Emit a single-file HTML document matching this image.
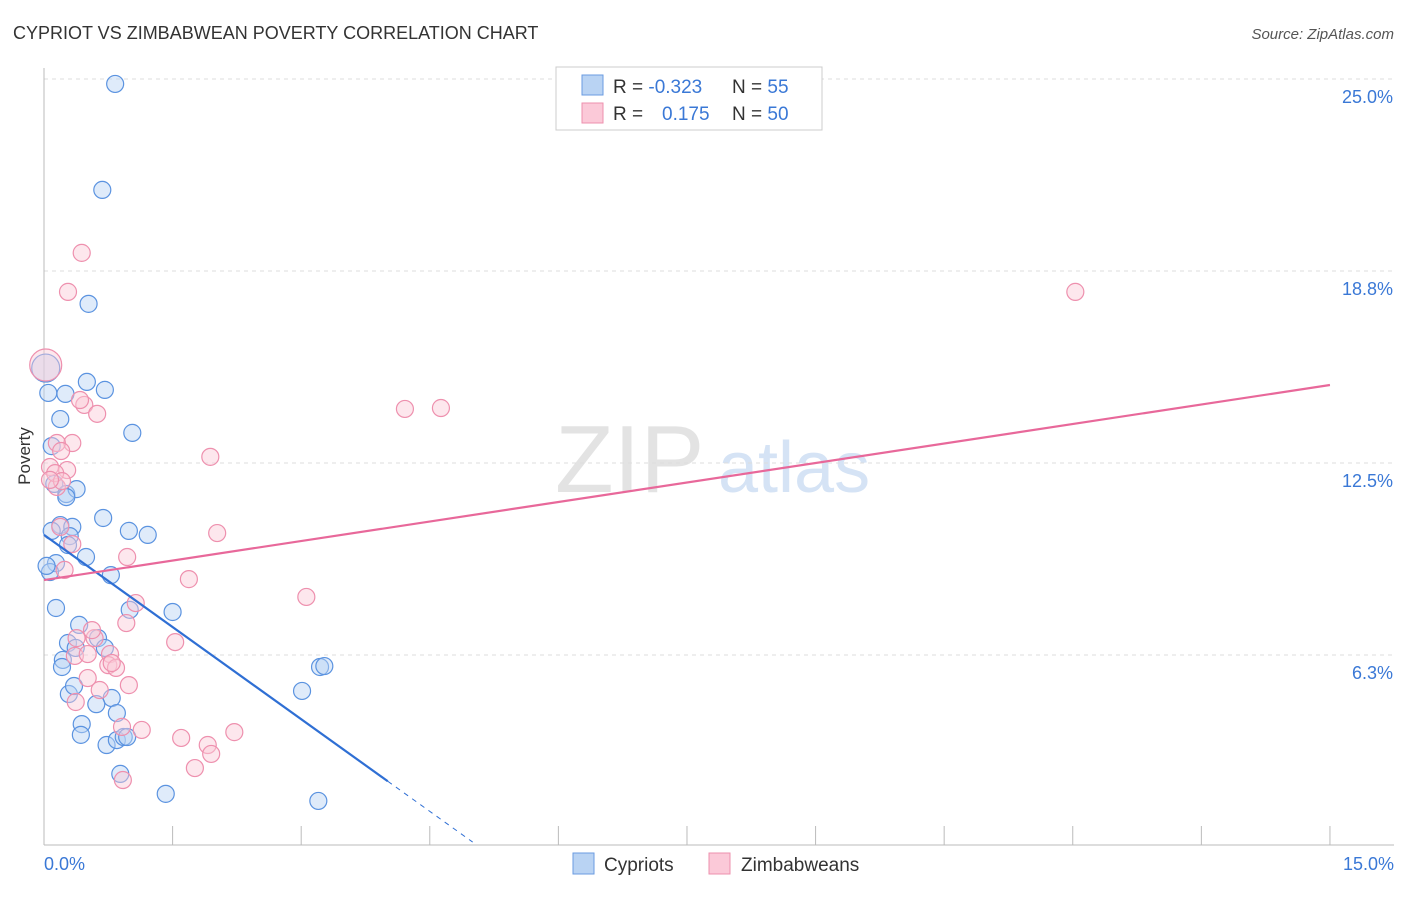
<!DOCTYPE html>
<html><head><meta charset="utf-8"><style>
body{margin:0;background:#fff;font-family:"Liberation Sans",sans-serif}
svg text{font-family:"Liberation Sans",sans-serif}
</style></head><body>
<svg id="chart" width="1406" height="892" viewBox="0 0 1406 892" xmlns="http://www.w3.org/2000/svg">
<text x="13" y="39" font-size="18" fill="#333">CYPRIOT VS ZIMBABWEAN POVERTY CORRELATION CHART</text>
<text x="1394" y="39" font-size="15" fill="#555" font-style="italic" text-anchor="end">Source: ZipAtlas.com</text>
<g><text x="555" y="492" font-size="96" fill="#ddd" font-family="Liberation Serif" opacity="0.8">ZIP</text><text x="718" y="492" font-size="72" fill="#d5e3f5">atlas</text></g>
<g id="grid"></g>
<line x1="44" y1="68" x2="44" y2="845" stroke="#bbb"/>
<line x1="44" y1="845" x2="1394" y2="845" stroke="#bbb"/>
<g id="xticks"></g>
<text x="30" y="456" font-size="17" fill="#333" transform="rotate(-90 30 456)" text-anchor="middle">Poverty</text>
<text x="44" y="870" font-size="18" fill="#3a78d6">0.0%</text>
<text x="1394" y="870" font-size="18" fill="#3a78d6" text-anchor="end">15.0%</text>
<g id="points"></g>
<g id="lines"></g>
<g>
<rect x="556" y="67" width="266" height="63" fill="#fff" stroke="#ccc"/>
<rect x="582" y="75" width="21" height="20" fill="#b9d3f3" stroke="#6a9be0"/>
<rect x="582" y="103" width="21" height="20" fill="#fbc9d8" stroke="#ee90ae"/>
<text x="613" y="93" font-size="19" fill="#333">R = <tspan fill="#3a78d6">-0.323</tspan></text>
<text x="732" y="93" font-size="19" fill="#333">N = <tspan fill="#3a78d6">55</tspan></text>
<text x="613" y="120" font-size="19" fill="#333">R = <tspan fill="#3a78d6" x="662">0.175</tspan></text>
<text x="732" y="120" font-size="19" fill="#333">N = <tspan fill="#3a78d6">50</tspan></text>
</g>
<g>
<rect x="573" y="853" width="21" height="21" fill="#b9d3f3" stroke="#6a9be0"/>
<text x="604" y="871" font-size="19" fill="#333">Cypriots</text>
<rect x="709" y="853" width="21" height="21" fill="#fbc9d8" stroke="#ee90ae"/>
<text x="741" y="871" font-size="19" fill="#333">Zimbabweans</text>
</g>
</svg>
<script>
const yTicks=[25.0,18.75,12.5,6.25];
const yTickLabels=["25.0%","18.8%","12.5%","6.3%"];
const xTicks=[0,1.5,3,4.5,6,7.5,9,10.5,12,13.5,15];
const blueX=[0.83,0.68,0.52,0.02,0.05,0.25,0.50,0.71,0.19,1.03,0.09,0.12,0.26,0.38,0.69,0.19,0.33,0.99,1.21,0.09,0.30,0.28,0.49,0.14,0.07,0.78,0.14,1.00,1.50,0.41,0.28,0.63,0.22,0.37,0.71,0.21,3.22,3.27,3.01,0.29,0.35,0.79,0.61,0.44,0.85,0.43,0.73,0.85,0.93,0.97,0.89,1.42,3.20,0.03,0.26];
const blueY=[24.84,21.39,17.68,15.59,14.78,14.75,15.14,14.88,13.93,13.48,13.05,11.82,11.49,11.65,10.71,10.48,10.42,10.29,10.16,10.29,10.12,9.83,9.44,9.24,8.95,8.85,7.78,7.72,7.65,7.23,6.64,6.80,6.09,6.48,6.48,5.86,5.86,5.89,5.08,4.98,5.24,4.85,4.65,4.00,4.36,3.65,3.32,3.48,3.58,3.58,2.38,1.73,1.50,9.15,11.39];
const pinkX=[0.44,0.28,12.03,0.02,0.47,0.42,0.62,4.21,4.63,0.33,0.15,0.20,1.94,0.27,0.07,0.15,0.13,0.21,2.02,0.19,0.33,0.97,0.24,1.69,3.06,1.07,0.96,1.53,0.38,0.59,0.36,0.51,0.77,0.75,0.84,0.79,0.51,0.99,0.37,1.14,0.91,2.22,1.60,1.91,1.95,1.76,0.92,0.07,0.56,0.65];
const pinkY=[19.34,18.07,18.07,15.69,14.39,14.55,14.10,14.26,14.29,13.15,13.15,12.89,12.70,12.27,12.37,11.72,12.17,11.91,10.22,10.42,9.86,9.44,9.02,8.72,8.14,7.94,7.29,6.67,6.80,6.80,6.22,6.28,6.28,5.92,5.83,5.99,5.50,5.27,4.72,3.81,3.91,3.74,3.55,3.32,3.03,2.57,2.18,11.95,7.06,5.11];
const blueTrend=[10.16,-2.0]; // intercept, slope
const pinkTrend=[8.69,0.4233];
const NS="http://www.w3.org/2000/svg";
const sx=v=>44+v*85.73, sy=v=>847-v*30.72;
function mk(t,a,p){const e=document.createElementNS(NS,t);for(const k in a)e.setAttribute(k,a[k]);p.appendChild(e);return e;}
const grid=document.getElementById('grid');
yTicks.forEach((t,i)=>{
 const l=mk('line',{x1:44,x2:1394,y1:sy(t),y2:sy(t),stroke:'#ddd','stroke-dasharray':'4,4'},grid);
 
 
 const tx=mk('text',{x:1393,y:sy(t)+24,'font-size':18,fill:'#3a78d6','text-anchor':'end'},grid);
 tx.textContent=yTickLabels[i];
 
 
});
const xt=document.getElementById('xticks');
xTicks.forEach(t=>{
 const l=mk('line',{x1:sx(t),x2:sx(t),y1:826,y2:845,stroke:'#bbb'},xt);
 
 
});
const pts=document.getElementById('points');
function dots(X,Y,fill,stroke,name){X.forEach((x,i)=>{
 const r=(x<0.05&&Y[i]>15)?(name==='pink-point'?16:14):8.5;
 const c=mk('circle',{cx:sx(x),cy:sy(Y[i]),r:r,fill:fill,'fill-opacity':0.45,stroke:stroke,'stroke-width':1.2},pts);
 
 
});}
dots(blueX,blueY,'#b9d3f3','#5b93e0','blue-point');
dots(pinkX,pinkY,'#fbc9d8','#ee90ae','pink-point');
const ln=document.getElementById('lines');
const bEnd=4.01, bDash=5.0;
let l1=mk('line',{x1:sx(0),y1:sy(blueTrend[0]),x2:sx(bEnd),y2:sy(blueTrend[0]+blueTrend[1]*bEnd),stroke:'#2f6fd4','stroke-width':2.2},ln);


let l2=mk('line',{x1:sx(bEnd),y1:sy(blueTrend[0]+blueTrend[1]*bEnd),x2:sx(bDash),y2:sy(blueTrend[0]+blueTrend[1]*bDash),stroke:'#2f6fd4','stroke-width':1,'stroke-dasharray':'5,5'},ln);


let l3=mk('line',{x1:sx(0),y1:sy(pinkTrend[0]),x2:sx(15),y2:sy(pinkTrend[0]+pinkTrend[1]*15),stroke:'#e8689a','stroke-width':2.2},ln);


</script>
</body></html>
